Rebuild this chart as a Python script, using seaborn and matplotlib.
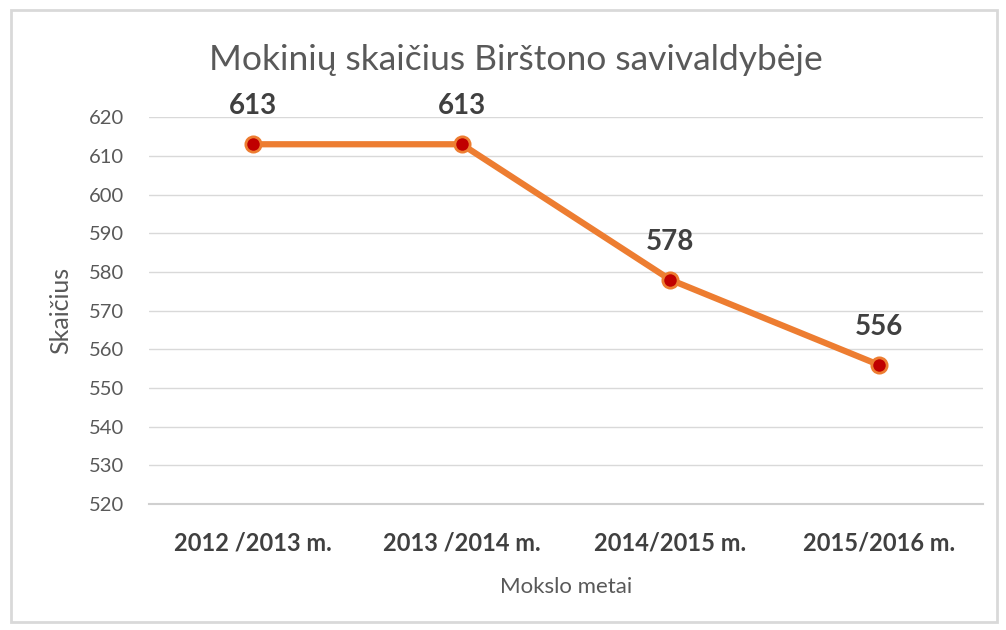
import matplotlib
matplotlib.use("Agg")
import matplotlib.pyplot as plt
import seaborn as sns
import pandas as pd
from matplotlib.patches import Rectangle

categories = ["2012 /2013 m.", "2013 /2014 m.", "2014/2015 m.", "2015/2016 m."]
values = [613, 613, 578, 556]
yticks = list(range(520, 621, 10))

sns.set_theme(style="white")
plt.rcParams['font.family'] = ['Lato', 'DejaVu Sans']

df = pd.DataFrame({"metai": categories, "skaicius": values})

fig = plt.figure(figsize=(10.06, 6.3), dpi=100)
ax = fig.add_axes([0.148, 0.2, 0.829, 0.614])

sns.lineplot(data=df, x="metai", y="skaicius", ax=ax, color="#ED7D31", linewidth=4.5,
             marker="o", markersize=11, markerfacecolor="#C00000",
             markeredgecolor="#ED7D31", markeredgewidth=2, sort=False)

ax.set_ylim(520, 620)
ax.set_xlim(-0.5, len(categories) - 0.5)
ax.set_yticks(yticks)
ax.yaxis.grid(True, color="#D9D9D9", linewidth=1)
ax.set_axisbelow(True)
for s in ["top", "right", "left"]:
    ax.spines[s].set_visible(False)
ax.spines["bottom"].set_color("#D0D0D0")
ax.spines["bottom"].set_linewidth(1.5)
ax.tick_params(axis="y", length=0, labelsize=14.5, labelcolor="#595959", pad=18)
ax.tick_params(axis="x", length=0, labelsize=17, labelcolor="#404040", pad=20)
for lbl in ax.get_xticklabels():
    lbl.set_fontweight("bold")

ax.set_xlabel("Mokslo metai", fontsize=16, color="#595959", labelpad=16)
ax.set_ylabel("Skaičius", fontsize=18, color="#595959", labelpad=12)

for i, v in enumerate(values):
    ax.annotate(str(v), (i, v), xytext=(0, 18), textcoords="offset points",
                ha="center", va="bottom", fontsize=20, fontweight="bold", color="#404040")

fig.text(0.513, 0.905, "Mokinių skaičius Birštono savivaldybėje", ha="center", va="center",
         fontsize=25.5, color="#595959")

fig.patches.append(Rectangle((11 / 1006, 8 / 630), 986 / 1006, 612 / 630, transform=fig.transFigure,
                             fill=False, edgecolor="#D9D9D9", linewidth=2))

fig.savefig("out.png", dpi=100, facecolor="white")
